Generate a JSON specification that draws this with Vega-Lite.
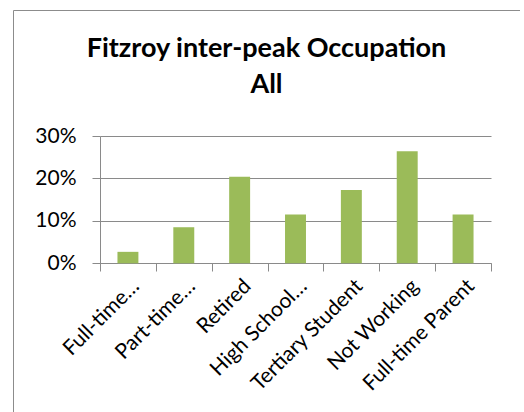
{
  "$schema": "https://vega.github.io/schema/vega-lite/v6.json",
  "autosize": "none",
  "padding": {"left": 13, "top": 10, "right": 0, "bottom": 0},
  "width": 507,
  "height": 410,
  "background": "white",
  "config": {
    "view": {"stroke": "#8c8c8c", "strokeWidth": 1},
    "font": "Lato"
  },
  "title": {
    "text": ["Fitzroy inter-peak Occupation", "All"],
    "font": "Lato",
    "fontSize": 27,
    "fontWeight": "bold",
    "color": "black",
    "lineHeight": 36,
    "anchor": "middle",
    "frame": "group",
    "baseline": "bottom",
    "offset": -116,
    "dx": 0
  },
  "data": {
    "values": [
      {"occupation": "Full-time…", "share": 0.027},
      {"occupation": "Part-time…", "share": 0.085},
      {"occupation": "Retired", "share": 0.204},
      {"occupation": "High School…", "share": 0.115},
      {"occupation": "Tertiary Student", "share": 0.173},
      {"occupation": "Not Working", "share": 0.264},
      {"occupation": "Full-time Parent", "share": 0.115}
    ]
  },
  "mark": {"type": "bar", "color": "#9BBB59", "width": {"band": 0.375}},
  "encoding": {
    "x": {
      "field": "occupation",
      "type": "nominal",
      "sort": null,
      "scale": {"range": [87, 478], "paddingInner": 0, "paddingOuter": 0},
      "axis": {
        "title": null,
        "offset": -157,
        "tickBand": "extent",
        "tickSize": 8,
        "tickColor": "#8a8a8a",
        "domainColor": "#8a8a8a",
        "labelAngle": -45,
        "labelAlign": "right",
        "labelBaseline": "top",
        "labelPadding": 4,
        "labelFontSize": 21,
        "labelColor": "black",
        "labelFont": "Lato"
      }
    },
    "y": {
      "field": "share",
      "type": "quantitative",
      "scale": {"domain": [0, 0.3], "range": [253.3, 126], "nice": false},
      "axis": {
        "title": null,
        "offset": -87,
        "values": [0, 0.1, 0.2, 0.3],
        "format": ".0%",
        "grid": true,
        "gridColor": "#8a8a8a",
        "gridWidth": 1,
        "tickSize": 8,
        "tickColor": "#8a8a8a",
        "domainColor": "#8a8a8a",
        "labelPadding": 16,
        "labelFontSize": 21,
        "labelColor": "black",
        "labelFont": "Lato"
      }
    }
  }
}
